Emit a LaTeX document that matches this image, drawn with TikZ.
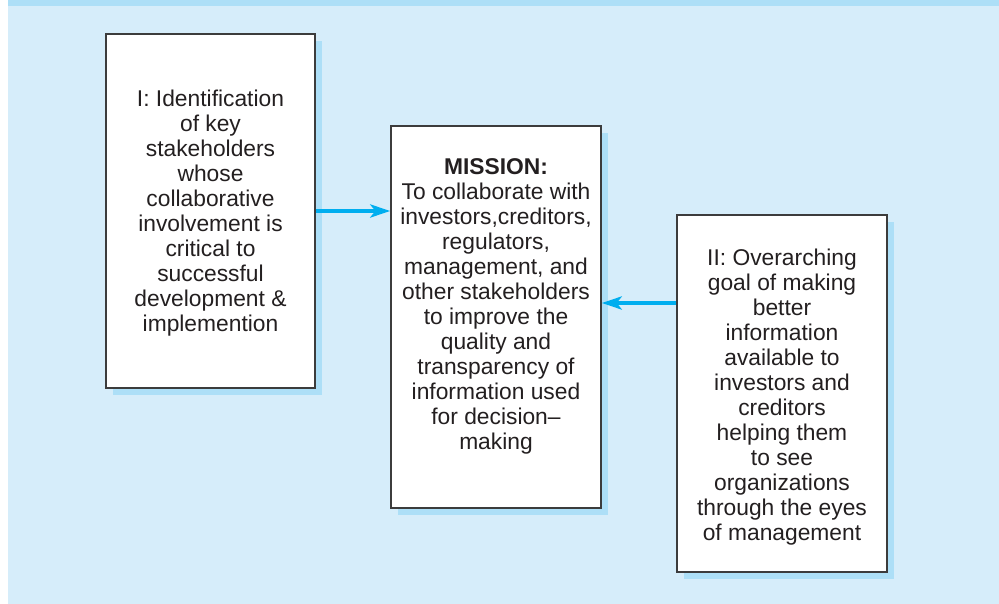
\documentclass[tikz,border=0pt]{standalone}
\usepackage{fontspec}
\setmainfont{Liberation Sans}
\usetikzlibrary{shadows,arrows.meta,calc}
\definecolor{bgblue}{HTML}{D6EDFA}
\definecolor{shblue}{HTML}{ADDFF7}
\definecolor{arrblue}{HTML}{00AEEF}
\definecolor{bordergray}{HTML}{3C3C3C}
\definecolor{txtcol}{HTML}{231F20}
\begin{document}
\begin{tikzpicture}[x=1pt,y=-1pt,
  box/.style={draw=bordergray, line width=1.3pt, fill=white, inner sep=0pt,
    general shadow={shadow xshift=7pt, shadow yshift=-7pt, fill=shblue}},
  txtstyle/.style={align=center, font=\fontsize{22.8}{25}\selectfont, text=txtcol, inner sep=0pt},
  arr/.style={draw=arrblue, line width=3.8pt, -{Stealth[length=20pt,width=13pt,inset=5pt]}}]
\useasboundingbox (0,0) rectangle (999,604);
\fill[bgblue] (8,0) rectangle (999,604);
\fill[shblue] (8,0) rectangle (999,6);
\node[box, minimum width=209pt, minimum height=354pt] (b1) at (210.5,211) {};
\node[box, minimum width=210pt, minimum height=382pt] (b2) at (496,317) {};
\node[box, minimum width=210pt, minimum height=357pt] (b3) at (782,393.5) {};
\node[txtstyle] (t1) at (210.5,213) {I: Identification\\of key\\stakeholders\\whose\\collaborative\\involvement is\\critical to\\successful\\development \&\\implemention};
\node[txtstyle] (t2) at (496,306) {\textbf{MISSION:}\\To collaborate with\\investors,creditors,\\regulators,\\management, and\\other stakeholders\\to improve the\\quality and\\transparency of\\information used\\for decision--\\making};
\node[txtstyle] (t3) at (782,397) {II: Overarching\\goal of making\\better\\information\\available to\\investors and\\creditors\\helping them\\to see\\organizations\\through the eyes\\of management};
\draw[arr] (b1.east) -- (b2.west |- b1.east);
\coordinate (a2) at ([yshift=90.5pt]b3.west);
\draw[arr] (a2) -- (b2.east |- a2);
\end{tikzpicture}
\end{document}
